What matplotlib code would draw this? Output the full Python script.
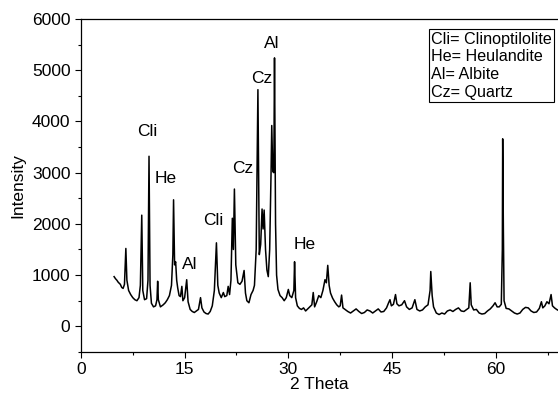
import matplotlib.pyplot as plt
from matplotlib.ticker import MultipleLocator

plt.rcParams['font.family'] = ['Liberation Sans', 'DejaVu Sans']

# XRD pattern (2 theta in degrees, intensity in counts)
two_theta = [4.8, 5.0, 5.2, 5.4, 5.7, 5.9, 6.1, 6.3, 6.5, 6.65, 6.9, 7.2, 7.5, 7.8, 8.1,
             8.4, 8.6, 8.8, 8.95, 9.2, 9.5, 9.7, 9.85, 10.0, 10.2, 10.5, 10.8, 11.0, 11.1,
             11.2, 11.5, 11.9, 12.2, 12.5, 12.8, 13.1, 13.3, 13.4, 13.55, 13.7, 13.85,
             14.0, 14.2, 14.4, 14.6, 14.75, 15.0, 15.3, 15.5, 15.8, 16.1, 16.4, 16.7,
             17.0, 17.3, 17.5, 17.8, 18.1, 18.4, 18.7, 19.0, 19.3, 19.6, 19.8, 20.0,
             20.3, 20.6, 20.8, 21.1, 21.3, 21.5, 21.7, 21.9, 22.05, 22.2, 22.4, 22.7,
             23.0, 23.3, 23.6, 23.8, 24.0, 24.3, 24.6, 24.9, 25.1, 25.35, 25.6, 25.8,
             26.0, 26.2, 26.35, 26.5, 26.7, 26.9, 27.1, 27.3, 27.5, 27.6, 27.75, 27.9,
             28.0, 28.15, 28.3, 28.5, 28.8, 29.1, 29.4, 29.7, 30.0, 30.2, 30.5, 30.8,
             30.9, 31.05, 31.3, 31.6, 31.9, 32.2, 32.5, 32.8, 33.1, 33.4, 33.6, 33.8,
             34.1, 34.4, 34.7, 35.0, 35.3, 35.5, 35.7, 35.9, 36.1, 36.4, 36.7, 37.0,
             37.3, 37.5, 37.7, 37.9, 38.2, 38.6, 39.0, 39.4, 39.8, 40.2, 40.6, 41.0,
             41.4, 41.8, 42.2, 42.6, 43.0, 43.4, 43.8, 44.2, 44.5, 44.7, 44.9, 45.2,
             45.5, 45.7, 46.0, 46.4, 46.8, 47.1, 47.5, 47.9, 48.3, 48.6, 49.0, 49.4,
             49.8, 50.2, 50.5, 50.6, 50.8, 51.0, 51.4, 51.8, 52.2, 52.6, 53.0, 53.4,
             53.8, 54.2, 54.6, 55.0, 55.4, 55.8, 56.1, 56.3, 56.45, 56.8, 57.2, 57.6,
             58.0, 58.4, 58.8, 59.2, 59.6, 59.9, 60.2, 60.5, 60.8, 60.95, 61.0, 61.1,
             61.2, 61.5, 61.9, 62.3, 62.7, 63.1, 63.5, 63.9, 64.3, 64.7, 65.1, 65.5,
             65.9, 66.3, 66.6, 66.8, 67.1, 67.4, 67.7, 68.0, 68.2, 68.5, 68.8, 69.2]
intensity = [970, 930, 900, 860, 820, 760, 740, 820, 1520, 900, 700, 620, 560, 520, 500,
             560, 800, 2170, 700, 520, 540, 900, 3320, 800, 450, 380, 400, 520, 880,
             520, 380, 420, 460, 520, 600, 800, 1400, 2470, 1200, 1260, 900,
             750, 600, 580, 780, 500, 560, 910, 480, 330, 290, 270, 300,
             330, 560, 360, 280, 250, 240, 290, 400, 700, 1630, 800, 650,
             560, 660, 580, 600, 780, 620, 900, 2110, 1500, 2680, 1200, 850,
             820, 880, 1090, 650, 500, 460, 620, 700, 800, 1500, 4620, 1400,
             1600, 2290, 1900, 2270, 1500, 1100, 970, 1500, 3000, 3920, 3020, 3000,
             5240, 2000, 1000, 720, 600, 560, 500, 560, 720, 600, 560, 700,
             1260, 560, 400, 350, 330, 360, 300, 340, 380, 420, 660, 380,
             480, 600, 560, 700, 910, 850, 1190, 800, 650, 550, 480, 420,
             380, 400, 610, 360, 330, 290, 260, 300, 340, 290, 250, 270,
             320, 300, 260, 300, 340, 280, 290, 360, 460, 520, 400, 430,
             620, 440, 400, 420, 500, 380, 330, 360, 520, 330, 300, 320,
             380, 420, 700, 1070, 600, 380, 260, 230, 260, 240, 300, 320,
             290, 330, 360, 300, 290, 330, 360, 850, 420, 320, 330, 260,
             240, 250, 300, 340, 400, 460, 380, 380, 430, 1500, 3660, 1880,
             500, 350, 340, 300, 260, 240, 260, 330, 370, 360, 300, 270,
             280, 350, 480, 360, 400, 480, 440, 620, 400, 360, 330, 300]

# phase labels placed over the peaks
label_text = ['Cli', 'He', 'Al', 'Cli', 'Cz', 'Cz', 'Al', 'He']
label_x = [9.55, 12.2, 15.7, 19.2, 23.4, 26.1, 27.6, 32.3]
label_y = [3800, 2880, 1200, 2060, 3090, 4830, 5530, 1590]

key_lines = ['Cli= Clinoptilolite', 'He= Heulandite', 'Al= Albite', 'Cz= Quartz']

fig = plt.figure(figsize=(5.58, 3.95), dpi=100)
ax = fig.add_axes([0.145, 0.109, 0.855, 0.843])

ax.plot(two_theta, intensity, color='black', linewidth=1.1)

for t, x, y in zip(label_text, label_x, label_y):
    ax.text(x, y, t, ha='center', va='center', fontsize=12.5)

ax.text(0.734, 0.962, '\n'.join(key_lines), transform=ax.transAxes,
        ha='left', va='top', fontsize=11.6, linespacing=1.22,
        bbox=dict(boxstyle='square,pad=0.15', facecolor='white',
                  edgecolor='black', linewidth=0.8))

ax.set_xlim(0, 69.0)
ax.set_ylim(-500, 6000)
ax.xaxis.set_major_locator(MultipleLocator(15))
ax.xaxis.set_minor_locator(MultipleLocator(7.5))
ax.yaxis.set_major_locator(MultipleLocator(1000))
ax.yaxis.set_minor_locator(MultipleLocator(500))
ax.tick_params(which='major', direction='out', length=4, width=0.8, labelsize=12.5)
ax.tick_params(which='minor', direction='out', length=2.5, width=0.8)
ax.spines['right'].set_visible(False)
for s in ['left', 'bottom', 'top']:
    ax.spines[s].set_linewidth(0.9)

ax.set_xlabel('2 Theta', fontsize=12.5, labelpad=0)
ax.set_ylabel('Intensity', fontsize=12.5, labelpad=5)

fig.savefig('out.png', dpi=100)
